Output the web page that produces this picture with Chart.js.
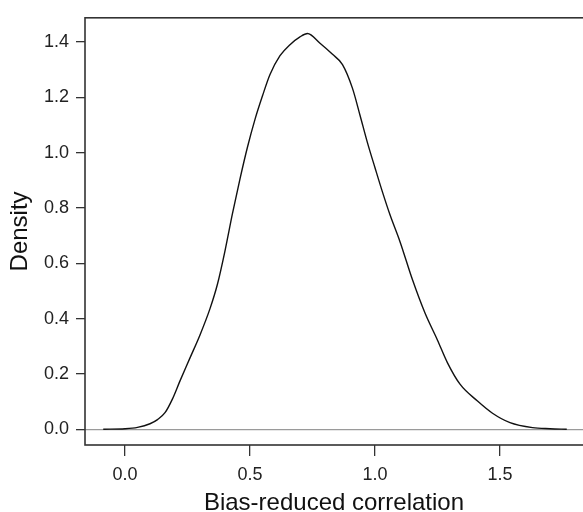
<!DOCTYPE html>
<html>
<head>
<meta charset="utf-8">
<script src="https://cdn.jsdelivr.net/npm/chart.js@4.4.0/dist/chart.umd.min.js"></script>
<style>
  body { margin: 0; background: #fff; }
  #wrap { width: 583px; height: 512px; }
</style>
</head>
<body>
<div id="wrap"><canvas id="densityPlot" width="583" height="512"></canvas></div>
<script>
// density estimate
const corr_x = [-0.087, 0.0, 0.05, 0.1, 0.13, 0.16, 0.19, 0.22, 0.26, 0.30, 0.34, 0.37, 0.40, 0.43, 0.46,
    0.49, 0.52, 0.55, 0.58, 0.62, 0.66, 0.70, 0.73, 0.78, 0.83, 0.87, 0.91, 0.94, 0.97, 1.00,
    1.03, 1.06, 1.10, 1.15, 1.20, 1.25, 1.29, 1.34, 1.41, 1.47, 1.54, 1.63, 1.70, 1.767];
const density = [0, 0.002, 0.007, 0.02, 0.035, 0.06, 0.11, 0.175, 0.258, 0.341, 0.436, 0.525, 0.645, 0.78, 0.905,
    1.02, 1.12, 1.205, 1.282, 1.35, 1.39, 1.418, 1.43, 1.395, 1.355, 1.318, 1.232, 1.135, 1.035, 0.945,
    0.857, 0.775, 0.678, 0.54, 0.42, 0.322, 0.24, 0.163, 0.102, 0.058, 0.024, 0.006, 0.002, 0];

const x_ticks = [0, 0.5, 1.0, 1.5];
const y_ticks = [0, 0.2, 0.4, 0.6, 0.8, 1.0, 1.2, 1.4];

const font_family = "'Liberation Sans', Arial, Helvetica, sans-serif";
const axis_color = '#333333';

const curve_data = corr_x.map((x, i) => ({ x: x, y: density[i] }));

// R-style box round the plot region (right side runs off the picture)
const boxPlugin = {
    id: 'plotBox',
    afterDraw(chart) {
        const a = chart.chartArea;
        const c = chart.ctx;
        c.save();
        c.strokeStyle = axis_color;
        c.lineWidth = 1.6;
        c.strokeRect(a.left, a.top, a.right - a.left + 4, a.bottom - a.top);
        c.restore();
    }
};

const config = {
    type: 'line',
    data: {
        datasets: [{
            label: 'Density',
            data: curve_data,
            borderColor: '#111111',
            borderWidth: 1.4,
            pointRadius: 0,
            cubicInterpolationMode: 'monotone',
            fill: false
        }]
    },
    options: {
        responsive: false,
        animation: false,
        layout: { padding: { top: 11, right: 0, left: 0, bottom: 0 } },
        plugins: {
            legend: { display: false },
            tooltip: { enabled: false }
        },
        scales: {
            x: {
                type: 'linear',
                min: -0.16,
                max: 1.832,
                afterFit: (s) => { s.height = 67; },
                afterBuildTicks: (s) => { s.ticks = x_ticks.map(v => ({ value: v })); },
                border: { display: false },
                grid: {
                    drawOnChartArea: false,
                    drawTicks: true,
                    tickLength: 11,
                    tickColor: axis_color,
                    lineWidth: 1.3
                },
                ticks: {
                    padding: 8,
                    maxRotation: 0,
                    color: '#222',
                    font: { size: 18, family: font_family },
                    callback: (v) => Number(v).toFixed(1)
                },
                title: {
                    display: true,
                    text: 'Bias-reduced correlation',
                    color: '#111',
                    font: { size: 24, family: font_family },
                    padding: { top: 0, bottom: -6 }
                }
            },
            y: {
                type: 'linear',
                min: -0.0568,
                max: 1.487,
                afterFit: (s) => { s.width = 85; },
                afterBuildTicks: (s) => { s.ticks = y_ticks.map(v => ({ value: v })); },
                border: { display: false },
                grid: {
                    drawTicks: true,
                    tickLength: 9,
                    tickColor: axis_color,
                    lineWidth: 1.3,
                    // only the zero line shows inside the box
                    color: (ctx) => (ctx.tick && Math.abs(ctx.tick.value) < 1e-9) ? '#9a9a9a' : 'rgba(0,0,0,0)'
                },
                ticks: {
                    padding: 7,
                    color: '#222',
                    font: { size: 18, family: font_family },
                    callback: (v) => Number(v).toFixed(1)
                },
                title: {
                    display: true,
                    text: 'Density',
                    color: '#111',
                    font: { size: 24, family: font_family },
                    padding: { top: 6, bottom: 0 }
                }
            }
        }
    },
    plugins: [boxPlugin]
};

new Chart(document.getElementById('densityPlot').getContext('2d'), config);
</script>
</body>
</html>
